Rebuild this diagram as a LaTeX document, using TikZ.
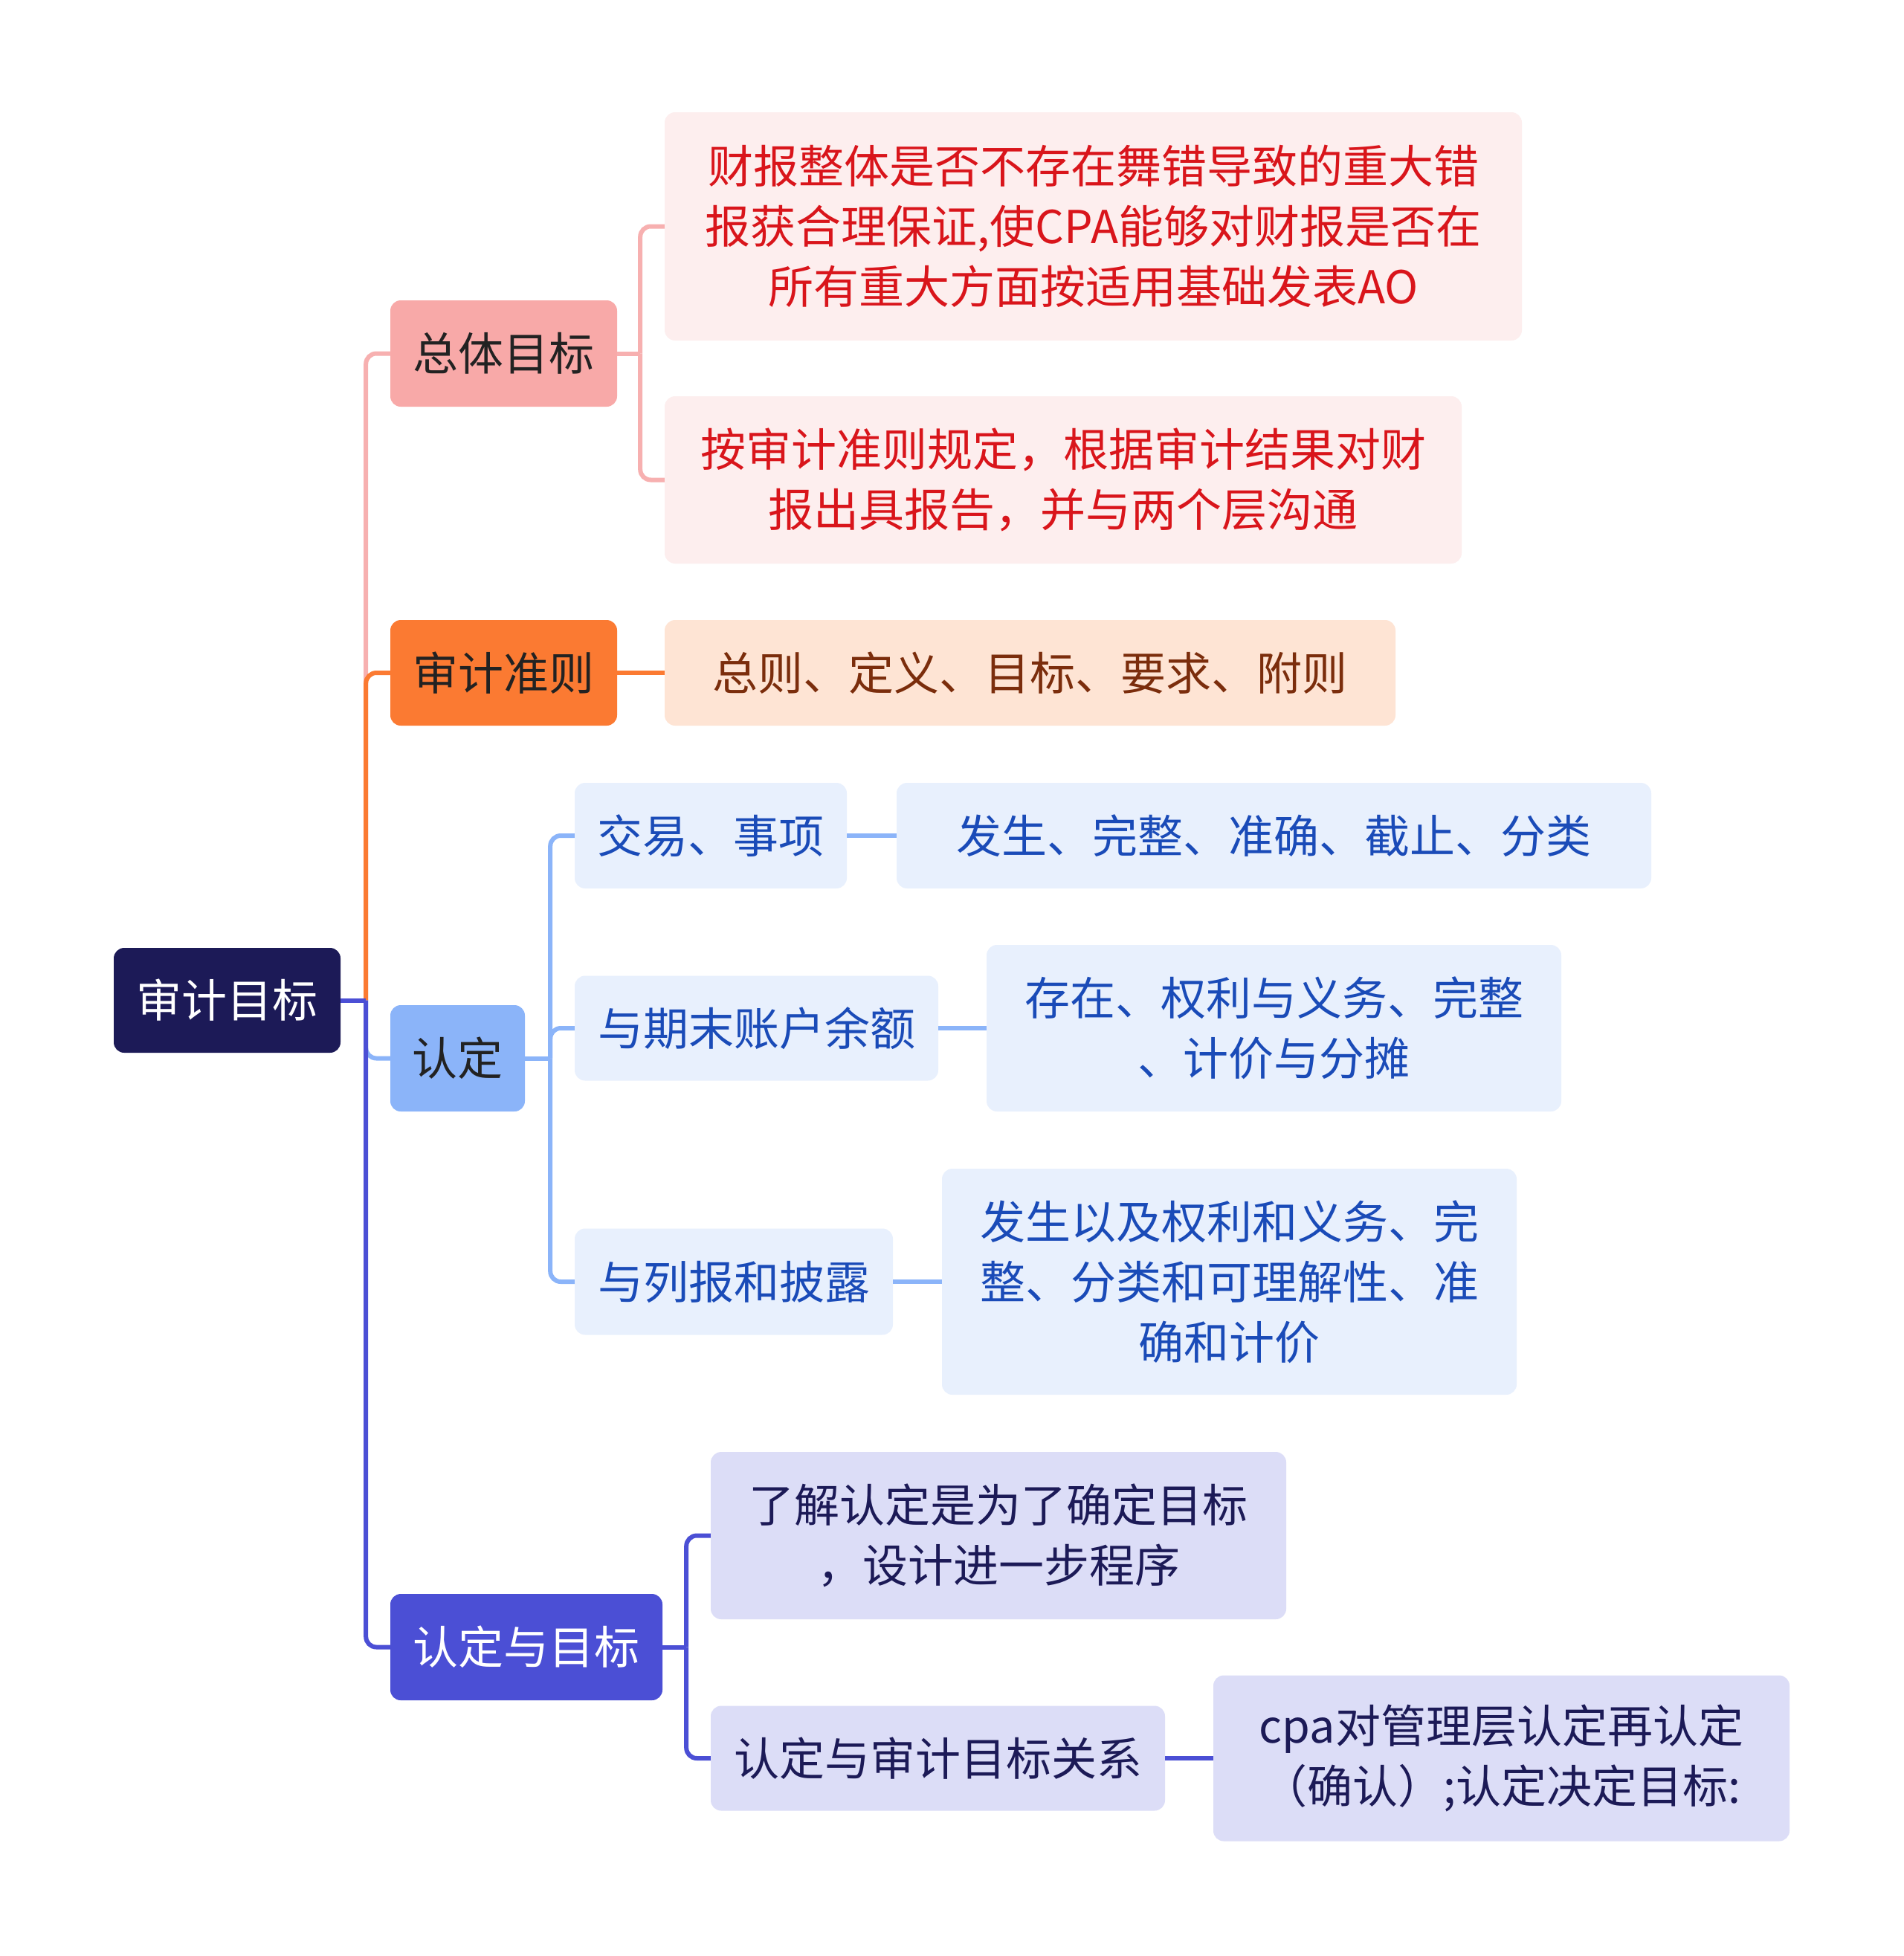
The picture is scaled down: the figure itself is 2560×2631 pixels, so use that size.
\documentclass[tikz,border=0pt]{standalone}
\usepackage{fontspec}
\setmainfont{Noto Sans CJK SC}
\definecolor{cnavy}{HTML}{1C1A57}
\definecolor{cpinkf}{HTML}{F8A9A8}
\definecolor{cpinkl}{HTML}{F7B0B0}
\definecolor{credf}{HTML}{FDEEEE}
\definecolor{credt}{HTML}{D9151B}
\definecolor{corange}{HTML}{FB7A32}
\definecolor{corangef}{HTML}{FEE4D4}
\definecolor{corangetx}{HTML}{7B2D0C}
\definecolor{cblue}{HTML}{8BB4F9}
\definecolor{cbluef}{HTML}{E8F0FD}
\definecolor{cbluet}{HTML}{1A4BB8}
\definecolor{cpurple}{HTML}{4B4FD5}
\definecolor{cpurplef}{HTML}{DCDDF7}
\definecolor{cdark}{HTML}{222222}
\begin{document}
\begin{tikzpicture}[x=1pt,y=-1pt,
  every node/.style={font=\fontsize{61}{81}\selectfont, align=center, inner sep=0pt, rounded corners=14pt},
  rootbox/.style={fill=cnavy, text=white},
  pinkbox/.style={fill=cpinkf, text=cdark},
  orangebox/.style={fill=corange, text=cdark},
  bluebox/.style={fill=cblue, text=cdark},
  purplebox/.style={fill=cpurple, text=white},
  redleaf/.style={fill=credf, text=credt},
  orangeleaf/.style={fill=corangef, text=corangetx},
  blueleaf/.style={fill=cbluef, text=cbluet},
  purpleleaf/.style={fill=cpurplef, text=cnavy},
  conn/.style={line width=6pt, rounded corners=14pt},
  stub/.style={line width=6pt},
]
\fill[white] (0,0) rectangle (2560,2631);
\useasboundingbox (0,0) rectangle (2560,2631);

% nodes
\node[rootbox, minimum width=305pt, minimum height=141pt] (root) at (305.5,1345.5) {审计目标};

\node[pinkbox, minimum width=305pt, minimum height=143pt] (zt) at (677.5,475.5) {总体目标};
\node[redleaf, minimum width=1153pt, minimum height=307pt] (r1) at (1470.5,304.5) {财报整体是否不存在舞错导致的重大错\\报获合理保证,使CPA能够对财报是否在\\所有重大方面按适用基础发表AO};
\node[redleaf, minimum width=1072pt, minimum height=225pt] (r2) at (1430,645.5) {按审计准则规定，根据审计结果对财\\报出具报告，并与两个层沟通};

\node[orangebox, minimum width=305pt, minimum height=142pt] (sj) at (677.5,905) {审计准则};
\node[orangeleaf, minimum width=983pt, minimum height=142pt] (o1) at (1385.5,905) {总则、定义、目标、要求、附则};

\node[bluebox, minimum width=181pt, minimum height=143pt] (rd) at (615.5,1423.5) {认定};
\node[blueleaf, minimum width=366pt, minimum height=142pt] (b1) at (956,1124) {交易、事项};
\node[blueleaf, minimum width=1015pt, minimum height=142pt] (b1l) at (1713.5,1124) {发生、完整、准确、截止、分类};
\node[blueleaf, minimum width=489pt, minimum height=141pt] (b2) at (1017.5,1383) {与期末账户余额};
\node[blueleaf, minimum width=773pt, minimum height=224pt] (b2l) at (1713.5,1383) {存在、权利与义务、完整\\、计价与分摊};
\node[blueleaf, minimum width=428pt, minimum height=143pt] (b3) at (987,1724) {与列报和披露};
\node[blueleaf, minimum width=773pt, minimum height=304pt] (b3l) at (1653.5,1724) {发生以及权利和义务、完\\整、分类和可理解性、准\\确和计价};

\node[purplebox, minimum width=366pt, minimum height=143pt] (mb) at (708,2215.5) {认定与目标};
\node[purpleleaf, minimum width=774pt, minimum height=225pt] (p1) at (1343,2065.5) {了解认定是为了确定目标\\，设计进一步程序};
\node[purpleleaf, minimum width=611pt, minimum height=141pt] (p2) at (1261.5,2365) {认定与审计目标关系};
\node[purpleleaf, minimum width=775pt, minimum height=223pt] (p2l) at (2019.5,2365) {cpa对管理层认定再认定\\（确认）;认定决定目标:};

% junction coordinates
\path (root.east) ++(34pt,0) coordinate (jroot);
\path (zt.east) ++(31pt,0) coordinate (jzt);
\path (rd.east) ++(34pt,0) coordinate (jrd);
\path (mb.east) ++(32pt,0) coordinate (jmb);

% trunk connectors
\draw[conn, cpinkl] (jroot) |- (zt.west);
\draw[conn, corange] (jroot) |- (sj.west);
\draw[conn, cblue] (jroot) |- (rd.west);
\draw[conn, cpurple] (jroot) |- (mb.west);
\draw[stub, cpurple] (root.east) -- (jroot);

% secondary connectors
\draw[conn, cpinkl] (jzt) |- (r1.west);
\draw[conn, cpinkl] (jzt) |- (r2.west);
\draw[stub, cpinkl] (zt.east) -- (jzt);
\draw[stub, corange] (sj.east) -- (o1.west);

\draw[conn, cblue] (jrd) |- (b1.west);
\draw[conn, cblue] (jrd) |- (b2.west);
\draw[conn, cblue] (jrd) |- (b3.west);
\draw[stub, cblue] (rd.east) -- (jrd);
\draw[stub, cblue] (b1.east) -- (b1l.west);
\draw[stub, cblue] (b2.east) -- (b2l.west);
\draw[stub, cblue] (b3.east) -- (b3l.west);

\draw[conn, cpurple] (jmb) |- (p1.west);
\draw[conn, cpurple] (jmb) |- (p2.west);
\draw[stub, cpurple] (mb.east) -- (jmb);
\draw[stub, cpurple] (p2.east) -- (p2l.west);
\end{tikzpicture}
\end{document}
